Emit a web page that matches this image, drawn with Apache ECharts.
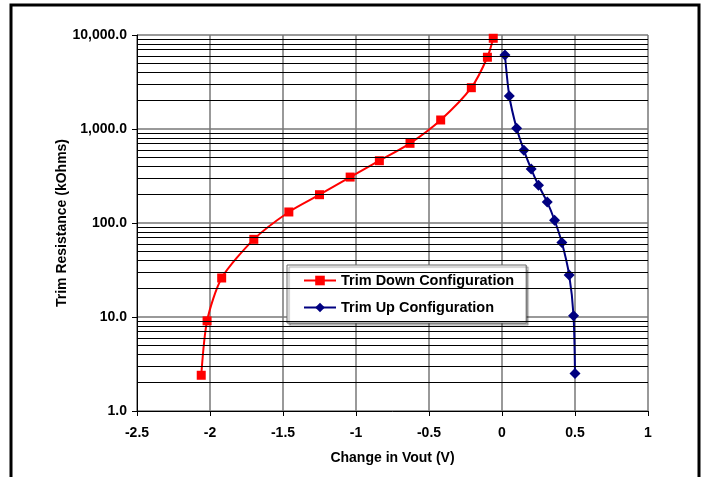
<!DOCTYPE html>
<html>
<head>
<meta charset="utf-8">
<script src="https://cdn.jsdelivr.net/npm/echarts@6/dist/echarts.min.js"></script>
<style>
  html, body { margin: 0; padding: 0; background: #fff; }
  #chart { width: 704px; height: 477px; }
</style>
</head>
<body>
<div id="chart"></div>
<script>
// trim down / trim up curves
const downVout = [-2.06, -2.02, -1.92, -1.70, -1.46, -1.25, -1.04, -0.84, -0.63, -0.42, -0.21, -0.10, -0.06]
const downRes = [2.4, 9.1, 26, 67, 131, 200, 308, 460, 704, 1247, 2750, 5800, 9230]
const upVout = [0.02, 0.05, 0.10, 0.15, 0.20, 0.25, 0.31, 0.36, 0.41, 0.46, 0.49, 0.50]
const upRes = [6125, 2245, 1017, 593, 375, 252, 167, 107, 62, 28, 10.3, 2.5]

// minor grid lines (2..9 in each decade)
const decades = [1, 10, 100, 1000]
const minorSteps = [2, 3, 4, 5, 6, 7, 8, 9]
const minorLines = []
decades.forEach(d => minorSteps.forEach(s => minorLines.push(d * s)))

const fontFam = '"Liberation Sans", Arial, sans-serif'

function fmtRes(v) {
  const n = Math.round(v)
  return n.toString().replace(/\B(?=(\d{3})+(?!\d))/g, ',') + '.0'
}

const chart = echarts.init(document.getElementById('chart'))
chart.setOption({
  animation: false,
  backgroundColor: '#fff',
  graphic: [{
    type: 'rect',
    shape: { x: 11, y: 5, width: 688, height: 490 },
    style: { fill: 'none', stroke: '#000', lineWidth: 3 },
    z: 0
  }],
  grid: { left: 137, right: 56, top: 35, bottom: 66 },
  legend: {
    left: 287,
    top: 265,
    orient: 'vertical',
    backgroundColor: '#fff',
    borderColor: '#666',
    borderWidth: 1,
    shadowColor: 'rgba(0,0,0,0.35)',
    shadowOffsetX: 2,
    shadowOffsetY: 2,
    shadowBlur: 1,
    padding: [8, 12, 8, 16],
    itemGap: 12,
    itemWidth: 32,
    itemHeight: 12,
    textStyle: { fontFamily: fontFam, fontWeight: 'bold', fontSize: 14.5, color: '#000' },
    data: ['Trim Down Configuration', 'Trim Up Configuration']
  },
  xAxis: {
    type: 'value',
    min: -2.5,
    max: 1,
    interval: 0.5,
    name: 'Change in Vout (V)',
    nameLocation: 'middle',
    nameGap: 40,
    nameTextStyle: { fontFamily: fontFam, fontWeight: 'bold', fontSize: 14, color: '#000' },
    axisLine: { onZero: false, lineStyle: { color: '#000', width: 1 } },
    axisTick: { inside: false, length: 5, lineStyle: { color: '#000' } },
    axisLabel: { fontFamily: fontFam, fontWeight: 'bold', fontSize: 14, color: '#000', margin: 15 },
    splitLine: { show: true, lineStyle: { color: '#777', width: 1.5 } }
  },
  yAxis: {
    type: 'log',
    logBase: 10,
    min: 1,
    max: 10000,
    name: 'Trim Resistance (kOhms)',
    nameLocation: 'middle',
    nameGap: 68,
    nameMoveOverlap: false,
    nameTextStyle: { fontFamily: fontFam, fontWeight: 'bold', fontSize: 14, color: '#000' },
    axisLine: { show: true, onZero: false, lineStyle: { color: '#000', width: 1 } },
    axisTick: { show: true, length: 5, lineStyle: { color: '#000' } },
    axisLabel: { fontFamily: fontFam, fontWeight: 'bold', fontSize: 14, color: '#000', margin: 10, formatter: fmtRes },
    splitLine: { show: true, lineStyle: { color: '#999', width: 2 } }
  },
  series: [
    {
      name: 'minor',
      type: 'line',
      data: [],
      silent: true,
      z: 1,
      markLine: {
        silent: true,
        symbol: 'none',
        label: { show: false },
        lineStyle: { color: '#000', width: 1, type: 'solid' },
        emphasis: { disabled: true },
        data: minorLines.map(v => ({ yAxis: v }))
      }
    },
    {
      name: 'Trim Down Configuration',
      type: 'line',
      z: 3,
      smooth: 0.25,
      data: downVout.map((x, i) => [x, downRes[i]]),
      symbol: 'rect',
      symbolSize: 9,
      itemStyle: { color: '#ff0000' },
      lineStyle: { color: '#ff0000', width: 2 }
    },
    {
      name: 'Trim Up Configuration',
      type: 'line',
      z: 3,
      smooth: 0.25,
      data: upVout.map((x, i) => [x, upRes[i]]),
      symbol: 'diamond',
      symbolSize: 11,
      itemStyle: { color: '#000080' },
      lineStyle: { color: '#000080', width: 2 }
    }
  ]
})
</script>
</body>
</html>
